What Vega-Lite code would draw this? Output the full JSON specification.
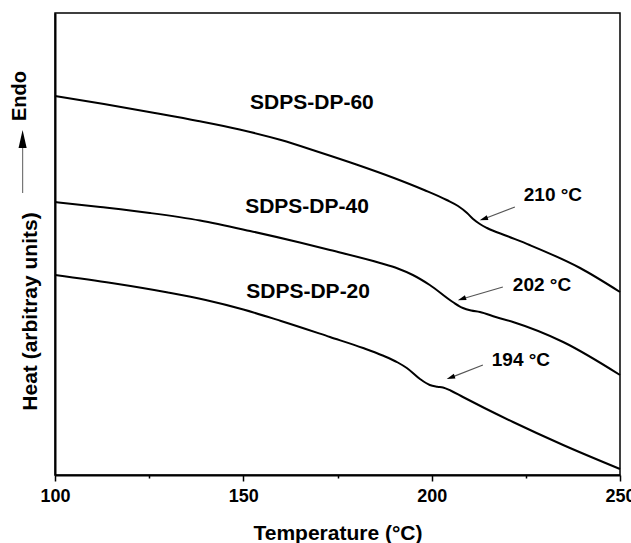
{
  "$schema": "https://vega.github.io/schema/vega-lite/v6.json",
  "width": 565,
  "height": 462,
  "autosize": {"type": "none"},
  "padding": {"left": 55, "top": 13, "right": 11, "bottom": 68},
  "background": "white",
  "config": {
    "view": {"stroke": "#000", "strokeWidth": 1.5},
    "font": "Liberation Sans"
  },
  "datasets": {
    "curves": [
      {"s": "DP-60", "T": 100, "v": 379}, {"s": "DP-60", "T": 113, "v": 371}, {"s": "DP-60", "T": 126.5, "v": 362},
      {"s": "DP-60", "T": 138, "v": 354}, {"s": "DP-60", "T": 149, "v": 345.5}, {"s": "DP-60", "T": 160, "v": 335},
      {"s": "DP-60", "T": 170, "v": 323}, {"s": "DP-60", "T": 180, "v": 310.5}, {"s": "DP-60", "T": 190, "v": 297},
      {"s": "DP-60", "T": 198, "v": 285}, {"s": "DP-60", "T": 204, "v": 275}, {"s": "DP-60", "T": 207, "v": 269},
      {"s": "DP-60", "T": 209.4, "v": 262}, {"s": "DP-60", "T": 211, "v": 256}, {"s": "DP-60", "T": 212.8, "v": 251},
      {"s": "DP-60", "T": 214.7, "v": 247}, {"s": "DP-60", "T": 220, "v": 239}, {"s": "DP-60", "T": 226, "v": 230},
      {"s": "DP-60", "T": 239.4, "v": 207}, {"s": "DP-60", "T": 250, "v": 183},

      {"s": "DP-40", "T": 100, "v": 273}, {"s": "DP-40", "T": 112, "v": 268}, {"s": "DP-40", "T": 125.2, "v": 262},
      {"s": "DP-40", "T": 138.5, "v": 254.5}, {"s": "DP-40", "T": 151.8, "v": 244}, {"s": "DP-40", "T": 165, "v": 232.5},
      {"s": "DP-40", "T": 173, "v": 225}, {"s": "DP-40", "T": 186.3, "v": 212}, {"s": "DP-40", "T": 191, "v": 206.5},
      {"s": "DP-40", "T": 195, "v": 200}, {"s": "DP-40", "T": 199.5, "v": 190}, {"s": "DP-40", "T": 205.6, "v": 173},
      {"s": "DP-40", "T": 208.3, "v": 167}, {"s": "DP-40", "T": 210.5, "v": 164.5}, {"s": "DP-40", "T": 212.8, "v": 163},
      {"s": "DP-40", "T": 217, "v": 158}, {"s": "DP-40", "T": 221.6, "v": 153}, {"s": "DP-40", "T": 234.9, "v": 133},
      {"s": "DP-40", "T": 250, "v": 100},

      {"s": "DP-20", "T": 100, "v": 200}, {"s": "DP-20", "T": 115, "v": 192}, {"s": "DP-20", "T": 130, "v": 182.5},
      {"s": "DP-20", "T": 140, "v": 175}, {"s": "DP-20", "T": 150, "v": 165.5}, {"s": "DP-20", "T": 160, "v": 154},
      {"s": "DP-20", "T": 173, "v": 138}, {"s": "DP-20", "T": 181.8, "v": 127}, {"s": "DP-20", "T": 187, "v": 119.5},
      {"s": "DP-20", "T": 191, "v": 112.5}, {"s": "DP-20", "T": 193.4, "v": 107}, {"s": "DP-20", "T": 196.9, "v": 96},
      {"s": "DP-20", "T": 199.5, "v": 90}, {"s": "DP-20", "T": 201.5, "v": 88.3}, {"s": "DP-20", "T": 203, "v": 87.5},
      {"s": "DP-20", "T": 205, "v": 84.5}, {"s": "DP-20", "T": 208.3, "v": 78}, {"s": "DP-20", "T": 214, "v": 67},
      {"s": "DP-20", "T": 221.6, "v": 53}, {"s": "DP-20", "T": 234.9, "v": 30}, {"s": "DP-20", "T": 250, "v": 6}
    ],
    "names": [
      {"label": "SDPS-DP-60", "T": 168.2, "v": 372},
      {"label": "SDPS-DP-40", "T": 166.9, "v": 268},
      {"label": "SDPS-DP-20", "T": 167.2, "v": 183}
    ],
    "temps": [
      {"label": "210 °C", "T": 232.2, "v": 280},
      {"label": "202 °C", "T": 229.3, "v": 190},
      {"label": "194 °C", "T": 223.7, "v": 115}
    ],
    "arrows": [
      {"T": 222.1, "v": 268, "T2": 213.8, "v2": 256},
      {"T": 218.9, "v": 188, "T2": 208.0, "v2": 176},
      {"T": 213.6, "v": 110, "T2": 205.05, "v2": 97.4}
    ],
    "endo": [{"label": "Endo", "T": 90.7, "v": 379, "T2": 91.4, "v2": 282, "v3": 336}]
  },
  "encoding": {
    "x": {
      "field": "T", "type": "quantitative",
      "scale": {"domain": [100, 250], "nice": false, "zero": false},
      "axis": {
        "title": "Temperature (°C)",
        "values": [100, 125, 150, 175, 200, 225, 250],
        "labelExpr": "datum.value % 50 === 0 ? datum.label : ''",
        "grid": false,
        "domainColor": "#000", "domainWidth": 2,
        "tickColor": "#000", "tickWidth": 1.5,
        "tickSize": {"condition": {"test": "datum.value % 50 === 0", "value": 6}, "value": 3},
        "labelFont": "Liberation Sans", "labelFontWeight": "bold", "labelFontSize": 18, "labelColor": "#000",
        "labelPadding": 6, "labelFlush": false,
        "titleFont": "Liberation Sans", "titleFontWeight": "bold", "titleFontSize": 21, "titleColor": "#000",
        "titleBaseline": "middle", "titleY": 58
      }
    },
    "y": {
      "field": "v", "type": "quantitative",
      "scale": {"domain": [0, 462], "nice": false, "zero": false},
      "axis": {
        "title": "Heat (arbitray units)",
        "ticks": false, "labels": false, "grid": false,
        "domainColor": "#000", "domainWidth": 2,
        "titleFont": "Liberation Sans", "titleFontWeight": "bold", "titleFontSize": 21, "titleColor": "#000",
        "titleAngle": 270, "titleAlign": "center", "titleBaseline": "middle",
        "titleX": -25, "titleY": 298
      }
    }
  },
  "layer": [
    {
      "data": {"name": "curves"},
      "mark": {"type": "line", "color": "#000", "strokeWidth": 2, "interpolate": "monotone"},
      "encoding": {"detail": {"field": "s"}}
    },
    {
      "data": {"name": "names"},
      "mark": {"type": "text", "fontSize": 21, "fontWeight": "bold", "color": "#000", "align": "center", "baseline": "middle"},
      "encoding": {"text": {"field": "label"}}
    },
    {
      "data": {"name": "temps"},
      "mark": {"type": "text", "fontSize": 19, "fontWeight": "bold", "color": "#000", "align": "center", "baseline": "middle"},
      "encoding": {"text": {"field": "label"}}
    },
    {
      "data": {"name": "arrows"},
      "mark": {"type": "rule", "color": "#555", "strokeWidth": 1.2},
      "encoding": {"x2": {"field": "T2"}, "y2": {"field": "v2"}}
    },
    {
      "data": {"name": "arrows"},
      "mark": {"type": "point", "shape": "M0,-1L-0.6,1L0.6,1Z", "filled": true, "color": "#000", "opacity": 1, "size": 70, "angle": 251},
      "encoding": {"x": {"field": "T2", "type": "quantitative"}, "y": {"field": "v2", "type": "quantitative"}}
    },
    {
      "data": {"name": "endo"},
      "mark": {"type": "text", "fontSize": 20, "fontWeight": "bold", "color": "#000", "align": "center", "baseline": "middle", "angle": 270},
      "encoding": {"text": {"field": "label"}}
    },
    {
      "data": {"name": "endo"},
      "mark": {"type": "rule", "color": "#777", "strokeWidth": 1.2},
      "encoding": {"x": {"field": "T2", "type": "quantitative"}, "y": {"field": "v2", "type": "quantitative"}, "y2": {"field": "v3"}}
    },
    {
      "data": {"name": "endo"},
      "mark": {"type": "point", "shape": "M0,-1L-0.45,1L0.45,1Z", "filled": true, "color": "#000", "opacity": 1, "size": 324},
      "encoding": {"x": {"field": "T2", "type": "quantitative"}, "y": {"field": "v3", "type": "quantitative"}}
    }
  ]
}
